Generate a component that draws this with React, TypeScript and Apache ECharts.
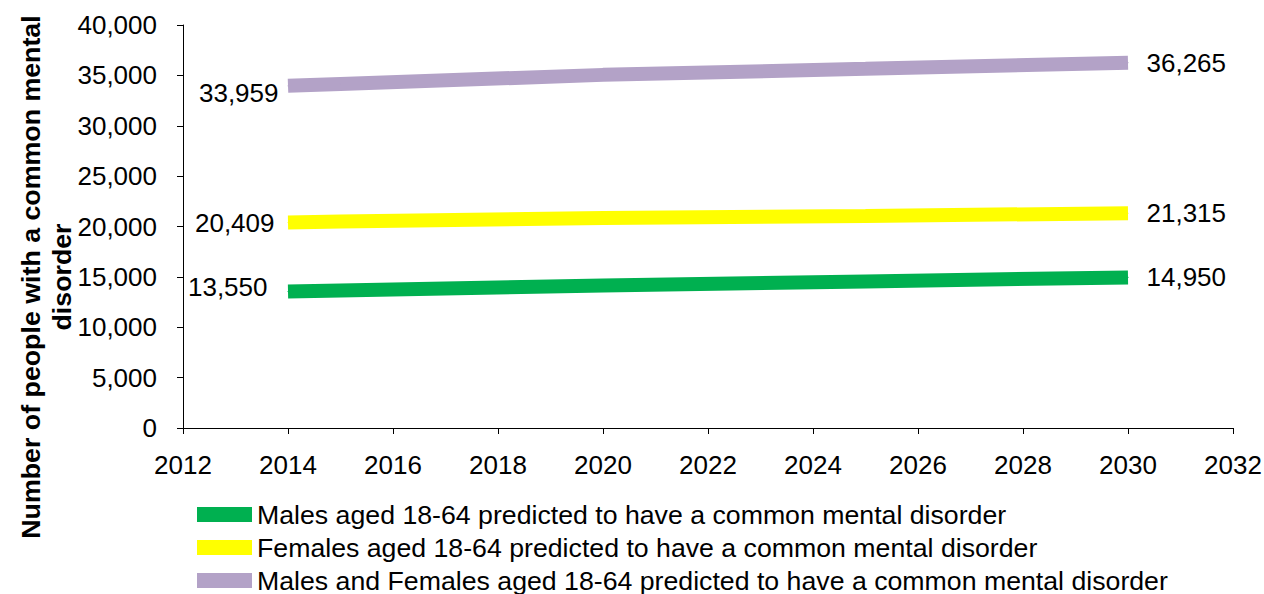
import React, { useEffect, useRef } from "react";
import * as echarts from "echarts";

const years = [2014, 2015, 2020, 2025, 2030];
const males = [13550, 13650, 14150, 14550, 14950];
const females = [20409, 20500, 20850, 21050, 21315];
const both = [33959, 34150, 35050, 35650, 36265];
const seriesNames = [
  "Males aged 18-64 predicted to have a common mental disorder",
  "Females aged 18-64 predicted to have a common mental disorder",
  "Males and Females aged 18-64 predicted to have a common mental disorder",
];
const colors = ["#00B050", "#FFFF00", "#B3A2C7"];
const yTitleLines = ["Number of people with a common mental", "disorder"];

const FONT = "'Liberation Sans', Arial, sans-serif";
const FS = 26;

function fmt(v: number) {
  return v.toLocaleString("en-US");
}

// left label placement per series: [distance, vertical shift]
const leftLabelPlace = [
  [20, -4],
  [13, 1],
  [9, 7],
];

function buildData(vals: number[], dist: number) {
  return years.map((y, i) => {
    const item: any = { value: [y, vals[i]] };
    if (i === 0) {
      item.label = { show: true, position: "left", distance: dist };
    } else if (i === years.length - 1) {
      item.label = { show: true, position: "right", distance: 18 };
    }
    return item;
  });
}

export default function App() {
  const ref = useRef<HTMLDivElement>(null);
  useEffect(() => {
    document.body.style.margin = "0";
    if (!ref.current) return;
    const chart = echarts.init(ref.current, null, { renderer: "svg" });
    const allVals = [males, females, both];
    chart.setOption({
      animation: false,
      textStyle: { fontFamily: FONT },
      grid: { left: 183, right: 31, top: 25, bottom: 166, containLabel: false, outerBoundsMode: "none" },
      xAxis: {
        type: "value",
        min: 2012,
        max: 2032,
        interval: 2,
        splitLine: { show: false },
        axisLine: { show: true, lineStyle: { color: "#000", width: 1 } },
        axisTick: { show: true, length: 6, lineStyle: { color: "#000" } },
        axisLabel: {
          fontSize: FS,
          color: "#000",
          fontFamily: FONT,
          margin: 24,
          showMinLabel: true,
          showMaxLabel: true,
          hideOverlap: false,
          formatter: (v: number) => String(v),
        },
      },
      yAxis: {
        type: "value",
        min: 0,
        max: 40000,
        interval: 5000,
        splitLine: { show: false },
        axisLine: { show: true, lineStyle: { color: "#000", width: 1 } },
        axisTick: { show: true, length: 6, lineStyle: { color: "#000" } },
        axisLabel: {
          fontSize: FS,
          color: "#000",
          fontFamily: FONT,
          margin: 26,
          formatter: (v: number) => fmt(v),
        },
      },
      legend: {
        orient: "vertical",
        left: 197,
        top: 501,
        padding: 0,
        itemWidth: 55,
        itemHeight: 15,
        itemGap: 6,
        icon: "rect",
        textStyle: { fontSize: 26.7, color: "#000", fontFamily: FONT },
        data: seriesNames,
      },
      graphic: yTitleLines.map((t, i) => ({
        type: "text",
        x: 31 + i * 31,
        y: 277,
        rotation: Math.PI / 2,
        scaleX: 1.03,
        style: {
          text: t,
          fontSize: FS,
          fontWeight: "bold",
          fontFamily: FONT,
          fill: "#000",
          align: "center",
          verticalAlign: "middle",
        },
      })),
      series: seriesNames.map((name, i) => ({
        name,
        type: "line",
        data: buildData(allVals[i], leftLabelPlace[i][0]),
        showSymbol: true,
        symbol: "circle",
        symbolSize: 1,
        color: colors[i],
        lineStyle: { width: 14, color: colors[i], cap: "butt", join: "bevel" },
        itemStyle: { color: colors[i] },
        label: {
          show: false,
          fontSize: FS,
          color: "#000",
          fontFamily: FONT,
          formatter: (p: any) => fmt(p.value[1]),
        },
        labelLayout: (p: any) => ({
          hideOverlap: false,
          dy: p.dataIndex === 0 ? leftLabelPlace[i][1] : 0,
        }),
        emphasis: { disabled: true },
      })),
    });
    return () => chart.dispose();
  }, []);
  return <div ref={ref} style={{ width: 1264, height: 594 }} />;
}
